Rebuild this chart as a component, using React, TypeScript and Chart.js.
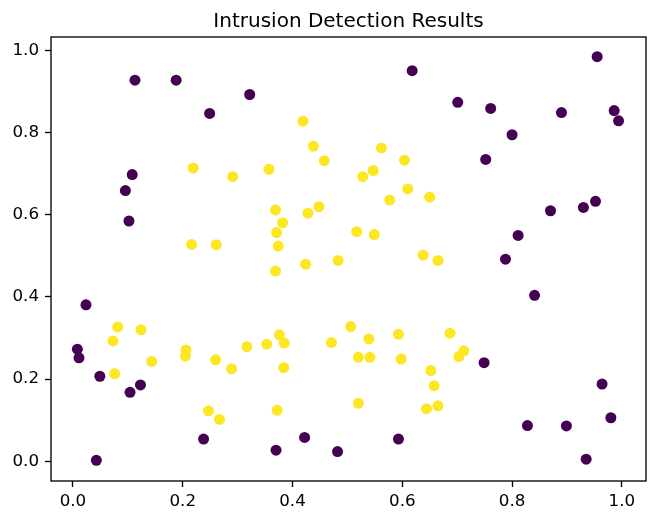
import React, { useEffect, useRef } from "react";
import { Chart, registerables } from "chart.js";

Chart.register(...registerables);

const titleText = "Intrusion Detection Results";

// Class 0 (normal / purple) points
const purpleX = [
  0.113, 0.188, 0.322, 0.249, 0.108, 0.0955, 0.102,
  0.955, 0.618, 0.701, 0.761, 0.890, 0.986, 0.994, 0.800, 0.752, 0.870, 0.930, 0.952, 0.811, 0.788,
  0.0237, 0.008, 0.011, 0.049, 0.104, 0.123, 0.238, 0.422, 0.370, 0.482, 0.0426,
  0.841, 0.749, 0.964, 0.980, 0.828, 0.899, 0.935, 0.593,
];
const purpleY = [
  0.928, 0.928, 0.893, 0.847, 0.698, 0.659, 0.585,
  0.985, 0.951, 0.874, 0.859, 0.849, 0.854, 0.829, 0.795, 0.735, 0.610, 0.618, 0.633, 0.550, 0.492,
  0.381, 0.273, 0.252, 0.207, 0.168, 0.186, 0.054, 0.058, 0.027, 0.0236, 0.0024,
  0.404, 0.240, 0.188, 0.106, 0.087, 0.086, 0.005, 0.054,
];

// Class 1 (intrusion / yellow) points
const yellowX = [
  0.419, 0.438, 0.458, 0.219, 0.291, 0.357, 0.369, 0.448, 0.428, 0.382, 0.371, 0.216, 0.261, 0.374,
  0.562, 0.604, 0.547, 0.528, 0.610, 0.577, 0.650, 0.517, 0.549, 0.638, 0.665, 0.483,
  0.369, 0.424, 0.0815, 0.124, 0.073, 0.1435, 0.076, 0.206, 0.205, 0.260, 0.289, 0.317, 0.353,
  0.376, 0.385, 0.384, 0.471, 0.247, 0.267, 0.372, 0.506,
  0.539, 0.593, 0.687, 0.520, 0.541, 0.598, 0.712, 0.703, 0.652, 0.658, 0.520, 0.644, 0.665,
];
const yellowY = [
  0.828, 0.767, 0.732, 0.714, 0.693, 0.711, 0.612, 0.620, 0.604, 0.581, 0.557, 0.528, 0.527, 0.524,
  0.763, 0.733, 0.708, 0.693, 0.663, 0.636, 0.643, 0.559, 0.552, 0.502, 0.489, 0.489,
  0.463, 0.480, 0.327, 0.320, 0.293, 0.243, 0.213, 0.271, 0.256, 0.247, 0.225, 0.279, 0.285,
  0.308, 0.288, 0.228, 0.289, 0.123, 0.102, 0.124, 0.328,
  0.298, 0.309, 0.312, 0.253, 0.253, 0.249, 0.269, 0.255, 0.221, 0.184, 0.141, 0.128, 0.135,
];

const xTicks = [0, 0.2, 0.4, 0.6, 0.8, 1.0];
const yTicks = [0, 0.2, 0.4, 0.6, 0.8, 1.0];
const xRange = [-0.040, 1.044];
const yRange = [-0.048, 1.033];

const PURPLE = "#440154";
const YELLOW = "#fde725";
const FONT = "'DejaVu Sans', sans-serif";

function toPoints(xs: number[], ys: number[]) {
  return xs.map((x, i) => ({ x, y: ys[i] }));
}

export default function App() {
  const canvasRef = useRef<HTMLCanvasElement | null>(null);

  useEffect(() => {
    if (!canvasRef.current) return;
    const framePlugin = {
      id: "frameAndTitle",
      afterDraw(chart: any) {
        const { ctx, chartArea } = chart;
        ctx.save();
        ctx.strokeStyle = "#000";
        ctx.lineWidth = 1.33;
        ctx.strokeRect(
          chartArea.left,
          chartArea.top,
          chartArea.right - chartArea.left,
          chartArea.bottom - chartArea.top
        );
        ctx.fillStyle = "#000";
        ctx.font = `20px ${FONT}`;
        ctx.textAlign = "center";
        ctx.textBaseline = "alphabetic";
        ctx.fillText(titleText, (chartArea.left + chartArea.right) / 2, chartArea.top - 10);
        ctx.restore();
      },
    };

    const chart = new Chart(canvasRef.current, {
      type: "scatter",
      data: {
        datasets: [
          {
            label: "0",
            data: toPoints(purpleX, purpleY),
            backgroundColor: PURPLE,
            borderWidth: 0,
            pointRadius: 5.5,
          },
          {
            label: "1",
            data: toPoints(yellowX, yellowY),
            backgroundColor: YELLOW,
            borderWidth: 0,
            pointRadius: 5.5,
          },
        ],
      },
      options: {
        animation: false,
        responsive: false,
        maintainAspectRatio: false,
        layout: { padding: { left: 0, right: 11, top: 37, bottom: 0 } },
        plugins: {
          legend: { display: false },
          title: { display: false },
          tooltip: { enabled: false },
        },
        scales: {
          x: {
            type: "linear",
            min: xRange[0],
            max: xRange[1],
            afterBuildTicks: (scale: any) => {
              scale.ticks = xTicks.map((v) => ({ value: v }));
            },
            afterFit: (scale: any) => {
              scale.height = 40;
            },
            ticks: {
              color: "#000",
              font: { family: FONT, size: 16.7 },
              padding: 5,
              maxRotation: 0,
              callback: (v: any) => Number(v).toFixed(1),
            },
            grid: {
              drawOnChartArea: false,
              drawTicks: true,
              tickLength: 6,
              tickColor: "#000",
              tickWidth: 1.33,
            },
            border: { display: false },
          },
          y: {
            type: "linear",
            min: yRange[0],
            max: yRange[1],
            afterBuildTicks: (scale: any) => {
              scale.ticks = yTicks.map((v) => ({ value: v }));
            },
            afterFit: (scale: any) => {
              scale.width = 51;
            },
            ticks: {
              color: "#000",
              font: { family: FONT, size: 16.7 },
              padding: 6,
              callback: (v: any) => Number(v).toFixed(1),
            },
            grid: {
              drawOnChartArea: false,
              drawTicks: true,
              tickLength: 6,
              tickColor: "#000",
              tickWidth: 1.33,
            },
            border: { display: false },
          },
        },
      },
      plugins: [framePlugin],
    } as any);

    return () => chart.destroy();
  }, []);

  return (
    <div
      style={{
        position: "fixed",
        left: 0,
        top: 0,
        width: 657,
        height: 521,
        background: "#fff",
      }}
    >
      <canvas ref={canvasRef} width={657} height={521} style={{ width: 657, height: 521 }} />
    </div>
  );
}
